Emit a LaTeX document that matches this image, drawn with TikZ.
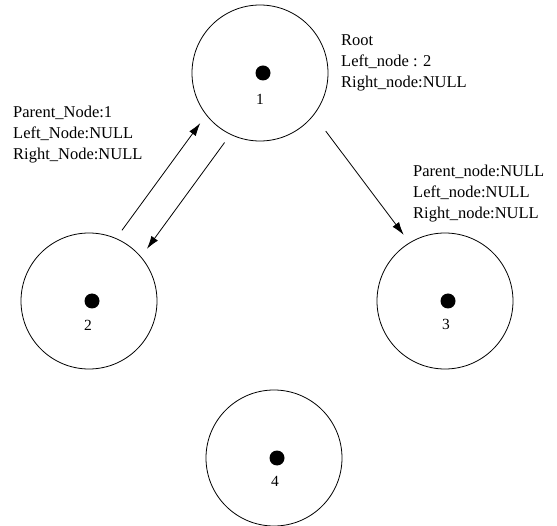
\documentclass[tikz,border=0pt]{standalone}
\usepackage{fontspec}
\setmainfont{Liberation Serif}
\usetikzlibrary{arrows.meta}

\tikzset{
  ring/.style={draw, circle, line width=0.8pt, minimum size=136pt, inner sep=0pt, outer sep=10pt},
  dot/.style={circle, fill=black, minimum size=15pt, inner sep=0pt},
  num/.style={inner sep=0pt, font=\fontsize{15.5}{21}\selectfont},
  info/.style={anchor=north west, inner sep=0pt, align=left, font=\fontsize{16.5}{21}\selectfont},
  link/.style={-{Latex[length=13pt,width=8pt]}, line width=0.8pt}
}

\begin{document}
\begin{tikzpicture}[x=1pt, y=-1pt]
	\useasboundingbox (0,0) rectangle (557,526);
	% the four nodes of the tree
	\node[ring] (N1) at (260,73) {};
	\node[ring] (N2) at (89,301) {};
	\node[ring] (N3) at (445,301) {};
	\node[ring] (N4) at (274,458) {};
	
	\node[dot] (D1) at (263,73) {};
	\node[dot] (D2) at (92,301) {};
	\node[dot] (D3) at (448,301) {};
	\node[dot] (D4) at (277,458) {};
	
	\node[num] (L1) at (260,99) {1};
	\node[num] (L2) at (88,325) {2};
	\node[num] (L3) at (446,324) {3};
	\node[num] (L4) at (275,481) {4};
	
	% pointers
	\node[info] (I1) at (341,35) {Root\\Left\_node : 2\\Right\_node:NULL};
	\node[info] (I2) at (13,106) {Parent\_Node:1\\Left\_Node:NULL\\Right\_Node:NULL};
	\node[info] (I3) at (413,165) {Parent\_node:NULL\\Left\_node:NULL\\Right\_node:NULL};
	
	\draw[link] (N2.65) -- (N1.220);
	\draw[link] (N1.243) -- (N2.42);
	\draw[link, shorten <=10pt] (N1.320) -- (N3.122);
\end{tikzpicture}
\end{document}
